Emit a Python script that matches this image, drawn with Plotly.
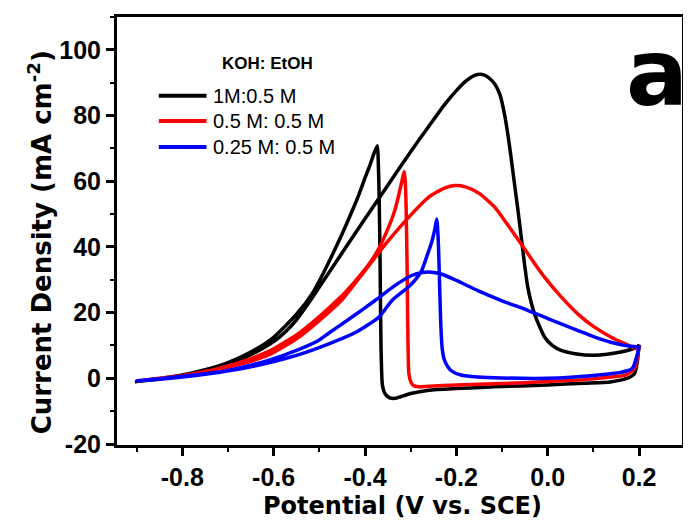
import plotly.graph_objects as go

# ---------------- data ----------------
series_names = ["1M:0.5 M", "0.5 M: 0.5 M", "0.25 M: 0.5 M"]
series_colors = ["#000000", "#ff0000", "#0000ff"]

# 1 M KOH : 0.5 M EtOH  (forward scan, then reverse scan)
black_fwd_v = [-0.90, -0.85, -0.80, -0.75, -0.70, -0.65, -0.60, -0.574, -0.55, -0.522, -0.50, -0.45, -0.40,
               -0.35, -0.30, -0.261, -0.225, -0.20, -0.18, -0.165, -0.153, -0.14, -0.13, -0.116, -0.105,
               -0.094, -0.087, -0.08, -0.073, -0.065, -0.058, -0.051, -0.044, -0.036, -0.029, -0.018,
               -0.007, 0.01, 0.029, 0.06, 0.10, 0.13, 0.16, 0.18, 0.196, 0.20]
black_fwd_j = [-1.0, -0.2, 0.8, 2.3, 4.2, 7.2, 11.2, 14.2, 17.8, 23.2, 27.8, 38.2, 48.6,
               58.8, 69.0, 76.6, 83.5, 87.6, 90.4, 91.9, 92.5, 92.4, 91.6, 89.6, 86.5,
               80.0, 74.0, 67.0, 59.5, 51.0, 43.0, 35.0, 28.0, 23.0, 19.7, 15.8,
               12.6, 10.0, 8.5, 7.5, 7.0, 7.3, 8.0, 8.7, 9.5, 10.2]
black_rev_v = [0.20, 0.196, 0.19, 0.17, 0.137, 0.08, 0.0, -0.116, -0.20, -0.26, -0.30, -0.322, -0.334,
               -0.348, -0.357, -0.362, -0.365, -0.367, -0.369, -0.371, -0.373, -0.38, -0.39, -0.40,
               -0.414, -0.428, -0.45, -0.472, -0.495, -0.516, -0.55, -0.60, -0.65, -0.70, -0.75, -0.80,
               -0.85, -0.90]
black_rev_j = [10.2, 5.0, 1.4, -0.2, -1.1, -1.5, -2.0, -2.6, -3.1, -3.6, -4.6, -5.6, -6.1,
               -5.8, -4.5, -2.0, 10.0, 35.0, 55.0, 66.0, 70.8, 68.6, 64.6, 61.0,
               55.7, 51.0, 44.0, 37.5, 31.0, 25.7, 19.5, 12.5, 8.0, 4.8, 2.6, 1.0,
               -0.1, -1.0]

# 0.5 M KOH : 0.5 M EtOH
red_fwd_v = [-0.90, -0.85, -0.80, -0.75, -0.719, -0.65, -0.61, -0.55, -0.501, -0.45, -0.40, -0.349, -0.298,
             -0.261, -0.225, -0.203, -0.18, -0.15, -0.116, -0.09, -0.058, -0.03, -0.007, 0.03, 0.065,
             0.10, 0.138, 0.17, 0.189, 0.20]
red_fwd_j = [-0.8, 0.0, 0.8, 1.8, 2.8, 5.2, 7.2, 12.0, 17.5, 24.0, 32.8, 41.9, 50.0,
             55.1, 58.0, 58.7, 58.3, 56.3, 52.1, 47.2, 40.9, 35.2, 30.8, 24.7, 19.7,
             15.8, 12.6, 10.5, 9.3, 9.5]
red_rev_v = [0.20, 0.19, 0.17, 0.138, 0.08, 0.0, -0.10, -0.20, -0.26, -0.283, -0.294, -0.300, -0.304,
             -0.306, -0.308, -0.310, -0.312, -0.314, -0.318, -0.325, -0.334, -0.35, -0.37, -0.39,
             -0.414, -0.443, -0.465, -0.50, -0.55, -0.61, -0.65, -0.72, -0.80, -0.85, -0.90]
red_rev_j = [9.5, 3.0, 1.0, 0.4, -0.4, -1.0, -1.6, -2.0, -2.4, -2.6, -2.2, -1.0, 1.5,
             12.0, 35.0, 52.0, 60.0, 63.0, 60.8, 56.5, 51.5, 45.5, 39.5, 35.0,
             30.8, 26.2, 23.2, 18.8, 13.2, 8.3, 6.0, 3.0, 0.8, -0.1, -0.8]

# 0.25 M KOH : 0.5 M EtOH
blue_fwd_v = [-0.90, -0.85, -0.80, -0.72, -0.65, -0.61, -0.55, -0.501, -0.479, -0.43, -0.378, -0.334,
              -0.298, -0.275, -0.254, -0.23, -0.20, -0.153, -0.10, -0.044, 0.0, 0.065, 0.10, 0.138,
              0.17, 0.20]
blue_fwd_j = [-0.8, -0.1, 0.6, 1.9, 4.0, 5.5, 8.5, 11.6, 13.8, 18.5, 23.7, 28.3,
              31.3, 32.2, 32.3, 31.6, 29.8, 26.7, 23.6, 20.7, 18.2, 14.6, 12.7, 11.0,
              10.0, 9.5]
blue_rev_v = [0.20, 0.185, 0.16, 0.138, 0.05, 0.0, -0.10, -0.153, -0.19, -0.21, -0.218, -0.226, -0.231,
              -0.234, -0.236, -0.238, -0.240, -0.243, -0.247, -0.254, -0.265, -0.276, -0.29,
              -0.305, -0.341, -0.37, -0.42, -0.479, -0.55, -0.65, -0.75, -0.85, -0.90]
blue_rev_j = [9.5, 3.0, 1.8, 1.4, 0.3, 0.0, 0.1, 0.4, 1.0, 2.2, 3.4, 5.5, 9.0,
              16.0, 25.0, 35.0, 43.0, 48.5, 45.5, 41.5, 37.0, 32.8, 30.0,
              27.8, 23.7, 18.6, 14.0, 10.5, 7.0, 3.5, 1.2, -0.3, -0.8]

x_tick_vals = [-0.8, -0.6, -0.4, -0.2, 0.0, 0.2]
x_tick_text = ["-0.8", "-0.6", "-0.4", "-0.2", "0.0", "0.2"]
y_tick_vals = [-20, 0, 20, 40, 60, 80, 100]
y_tick_text = ["-20", "0", "20", "40", "60", "80", "100"]

legend_title = "KOH: EtOH"
x_title = "Potential (V vs. SCE)"
y_title = "Current Density (mA cm<sup>-2</sup>)"
panel_label = "a"

# ---------------- figure ----------------
curves = [
    (black_fwd_v + black_rev_v, black_fwd_j + black_rev_j),
    (red_fwd_v + red_rev_v, red_fwd_j + red_rev_j),
    (blue_fwd_v + blue_rev_v, blue_fwd_j + blue_rev_j),
]

fig = go.Figure()
for (v, j), name, col in zip(curves, series_names, series_colors):
    fig.add_trace(go.Scatter(x=v, y=j, mode="lines", name=name,
                             line=dict(color=col, width=3.5, shape="spline", smoothing=0.6),
                             showlegend=False))

# the page body adds an 8 px offset; lay the figure out in screen pixels
OFF = 8
W, H = 691 - OFF, 521 - OFF
ml, mt = 117 - OFF, 15 - OFF
pw, ph = 568, 430
mr = W - ml - pw
mb = H - mt - ph


def px_x(px):
    return (px - OFF - ml) / pw


def px_y(py):
    return (mt + ph - (py - OFF)) / ph


title_font = dict(family="DejaVu Sans", color="#000", weight="bold")

# manual legend (longer line samples like the reference)
shapes = []
annotations = []
leg_rows = [94, 119.5, 145.5]
for name, col, yy in zip(series_names, series_colors, leg_rows):
    shapes.append(dict(type="line", xref="paper", yref="paper",
                       x0=px_x(159), x1=px_x(207), y0=px_y(yy), y1=px_y(yy),
                       line=dict(color=col, width=4)))
    annotations.append(dict(xref="paper", yref="paper", x=px_x(211), y=px_y(yy),
                            xanchor="left", yanchor="middle", showarrow=False, text=name,
                            font=dict(family="Liberation Sans, Arial", size=20, color="#000")))
annotations.append(dict(xref="paper", yref="paper", x=px_x(268), y=px_y(62),
                        xanchor="center", yanchor="middle", showarrow=False,
                        text="<b>" + legend_title + "</b>",
                        font=dict(family="Liberation Sans, Arial", size=17, color="#000")))
annotations.append(dict(xref="paper", yref="paper", x=px_x(627), y=px_y(72),
                        xanchor="left", yanchor="middle", showarrow=False,
                        text="<b>" + panel_label + "</b>",
                        font=dict(family="DejaVu Sans", size=92, color="#000")))
# axis titles
annotations.append(dict(xref="paper", yref="paper", x=px_x(404), y=px_y(506),
                        xanchor="center", yanchor="middle", showarrow=False, text=x_title,
                        font=dict(size=24, **title_font)))
annotations.append(dict(xref="paper", yref="paper", x=px_x(40), y=px_y(241),
                        xanchor="center", yanchor="middle", showarrow=False, text=y_title,
                        textangle=-90, font=dict(size=26, **title_font)))

axis_common = dict(showline=True, linecolor="#000", linewidth=3, mirror=True,
                   ticks="outside", ticklen=8, tickwidth=2.5, tickcolor="#000",
                   showgrid=False, zeroline=False,
                   tickfont=dict(family="Liberation Sans, Arial", size=25, color="#000", weight="bold"))

fig.update_layout(
    width=W, height=H,
    margin=dict(l=ml, r=mr, t=mt, b=mb),
    paper_bgcolor="white", plot_bgcolor="white",
    shapes=shapes, annotations=annotations,
    xaxis=dict(range=[-0.943, 0.294], tickvals=x_tick_vals, ticktext=x_tick_text,
               minor=dict(ticks="outside", ticklen=4, tickwidth=2, tickcolor="#000", dtick=0.1, tick0=0),
               **axis_common),
    yaxis=dict(range=[-20.3, 110], tickvals=y_tick_vals, ticktext=y_tick_text,
               minor=dict(ticks="outside", ticklen=4, tickwidth=2, tickcolor="#000", dtick=10, tick0=0),
               **axis_common),
)

fig.write_html("out.html")
